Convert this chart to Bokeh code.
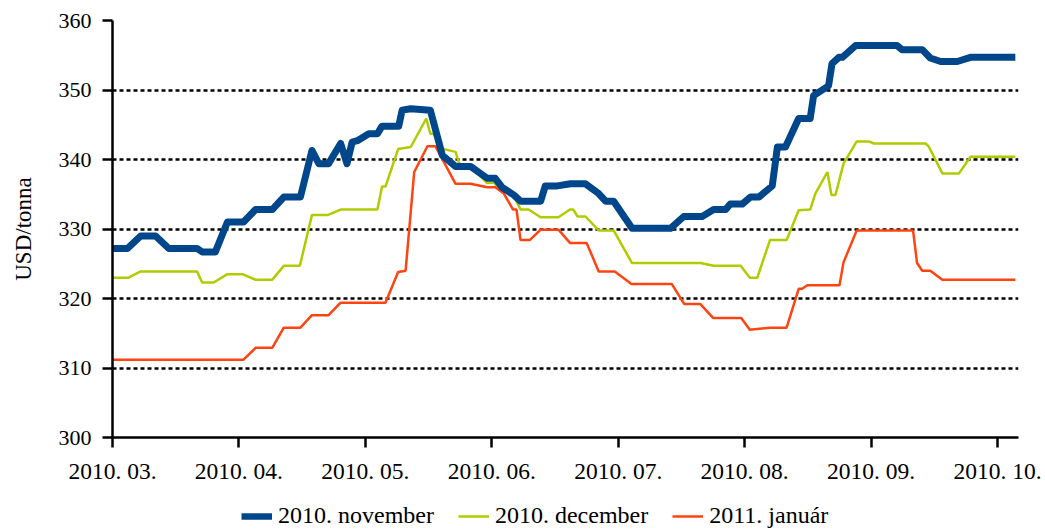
from bokeh.plotting import figure
from bokeh.models import FixedTicker, Legend, LegendItem, Range1d
from bokeh.layouts import column
from bokeh.embed import file_html
from bokeh.resources import INLINE

# x = trading-day index from 2010-03-01 (22 trading days per month tick)
tick_days = [0, 22, 44, 66, 88, 110, 132, 154]
tick_labels = ["2010. 03.", "2010. 04.", "2010. 05.", "2010. 06.",
               "2010. 07.", "2010. 08.", "2010. 09.", "2010. 10."]

nov_x = [0, 2.6, 4.9, 7.5, 9.8, 14.7, 15.6, 17.9, 20.0, 22.8, 24.9, 27.8, 29.8, 32.7,
         34.7, 35.9, 37.6, 39.7, 40.8, 41.7, 42.6, 44.6, 46.1, 46.9, 49.8, 50.4, 51.9,
         55.3, 57.4, 59.7, 62.3, 65.2, 66.6, 67.8, 69.8, 71.0, 74.5, 75.3, 77.4, 79.7,
         82.3, 84.6, 85.8, 87.2, 90.4, 97.1, 99.4, 102.6, 104.6, 106.7, 107.5, 109.6,
         111.0, 112.5, 114.8, 115.7, 117.1, 119.4, 121.4, 122.0, 124.6, 125.2, 126.4,
         127.0, 129.3, 136.5, 137.4, 140.9, 142.3, 144.1, 147.0, 149.3, 157.1]
nov_y = [327.2, 327.2, 329.0, 329.0, 327.2, 327.2, 326.7, 326.7, 331.0, 331.0, 332.8, 332.8,
         334.6, 334.6, 341.3, 339.4, 339.4, 342.3, 339.4, 342.5, 342.7, 343.7, 343.7, 344.8,
         344.8, 347.1, 347.3, 347.1, 340.6, 339.0, 339.0, 337.3, 337.3, 336.0, 334.9, 334.0,
         334.0, 336.2, 336.2, 336.5, 336.5, 335.1, 334.0, 334.0, 330.1, 330.1, 331.8, 331.8,
         332.8, 332.8, 333.6, 333.6, 334.6, 334.6, 336.2, 341.8, 341.8, 345.9, 345.9, 349.2,
         350.6, 353.8, 354.7, 354.7, 356.4, 356.4, 355.8, 355.8, 354.6, 354.1, 354.1, 354.7,
         354.7]

dec_x = [0, 2.8, 4.9, 14.7, 15.6, 17.6, 20.0, 22.6, 24.9, 27.8, 29.8, 32.6, 34.7, 37.4,
         39.7, 46.1, 46.9, 47.5, 49.7, 51.9, 54.6, 55.3, 55.9, 57.1, 59.7, 60.3, 62.3,
         65.2, 66.4, 67.5, 69.5, 71.0, 72.4, 74.5, 77.6, 79.6, 80.2, 80.9, 82.3, 84.6,
         87.2, 90.4, 102.3, 104.6, 109.3, 110.9, 112.2, 114.4, 117.3, 119.4, 121.4, 122.3,
         124.4, 125.1, 125.8, 127.2, 129.5, 131.6, 132.5, 141.5, 142.0, 144.4, 147.3,
         149.3, 157.1]
dec_y = [323.0, 323.0, 323.9, 323.9, 322.3, 322.3, 323.5, 323.5, 322.7, 322.7, 324.7, 324.7,
         332.0, 332.0, 332.8, 332.8, 336.1, 336.1, 341.5, 341.8, 345.9, 343.7, 343.7, 341.6,
         341.1, 339.4, 339.0, 336.6, 336.7, 335.5, 335.3, 332.8, 332.8, 331.7, 331.7, 332.8,
         332.8, 331.8, 331.8, 329.8, 329.8, 325.1, 325.1, 324.7, 324.7, 323.0, 323.0, 328.4,
         328.4, 332.7, 332.8, 335.1, 338.2, 334.9, 334.9, 339.4, 342.6, 342.6, 342.3, 342.3,
         341.9, 338.0, 338.0, 340.4, 340.4]

jan_x = [0, 22.8, 24.9, 27.8, 29.8, 32.7, 34.7, 37.6, 39.7, 47.5, 49.7, 51.0, 52.5, 54.8,
         56.2, 59.7, 62.3, 65.2, 66.6, 68.1, 69.7, 70.3, 71.0, 72.6, 74.5, 77.6, 79.6,
         82.5, 84.6, 87.4, 90.3, 97.3, 99.5, 102.3, 104.5, 109.4, 110.9, 114.5, 117.3,
         119.4, 120.0, 120.9, 126.5, 127.2, 129.5, 139.3, 140.0, 140.9, 142.3, 144.4, 157.1]
jan_y = [311.2, 311.2, 312.9, 312.9, 315.8, 315.8, 317.6, 317.6, 319.4, 319.4, 323.8, 324.0,
         338.2, 341.9, 341.9, 336.5, 336.5, 336.0, 336.0, 335.1, 332.8, 332.8, 328.4, 328.4,
         329.9, 329.9, 328.0, 328.0, 323.9, 323.9, 322.1, 322.1, 319.2, 319.2, 317.2, 317.2,
         315.5, 315.8, 315.8, 321.4, 321.4, 321.9, 321.9, 325.2, 329.8, 329.8, 325.1, 324.0,
         324.0, 322.7, 322.7]

series_names = ["2010. november", "2010. december", "2011. január"]
series_colors = ["#00468A", "#B0CC00", "#FF4411"]
series_widths = [6.5, 2.5, 2.5]
y_ticks = [300, 310, 320, 330, 340, 350, 360]

FONT = "Liberation Serif"

p = figure(width=1045, height=497, output_backend="svg", toolbar_location=None,
           x_range=Range1d(0, 157.65), y_range=Range1d(300, 360),
           min_border_left=112, min_border_right=27, min_border_top=20,
           min_border_bottom=60)
p.outline_line_color = None
p.background_fill_color = "white"
p.border_fill_color = "white"

p.xgrid.visible = False
p.ygrid.ticker = FixedTicker(ticks=y_ticks[1:])
p.ygrid.grid_line_color = "black"
p.ygrid.grid_line_dash = "4 3"
p.ygrid.grid_line_width = 2.5

for ax in (p.xaxis, p.yaxis):
    ax.axis_line_width = 2.5
    ax.axis_line_color = "black"
    ax.major_tick_line_width = 2.5
    ax.major_tick_line_color = "black"
    ax.major_tick_out = 10
    ax.major_tick_in = 0
    ax.minor_tick_line_color = None
    ax.major_label_text_font = FONT
    ax.major_label_text_color = "black"

p.xaxis.major_label_text_font_size = "23.5px"
p.yaxis.major_label_text_font_size = "22px"
p.xaxis.ticker = FixedTicker(ticks=tick_days)
p.xaxis.major_label_overrides = {d: l for d, l in zip(tick_days, tick_labels)}
p.xaxis.major_label_standoff = 10
p.yaxis.ticker = FixedTicker(ticks=y_ticks)
p.yaxis.major_label_standoff = 11
p.yaxis.axis_label = "USD/tonna"
p.yaxis.axis_label_text_font = FONT
p.yaxis.axis_label_text_font_size = "23px"
p.yaxis.axis_label_text_font_style = "normal"
p.yaxis.axis_label_text_color = "black"
p.yaxis.axis_label_standoff = 20

p.line(dec_x, dec_y, line_color=series_colors[1], line_width=series_widths[1])
p.line(jan_x, jan_y, line_color=series_colors[2], line_width=series_widths[2])
p.line(nov_x, nov_y, line_color=series_colors[0], line_width=7,
       line_join="round")

# legend strip below the chart (its frame is aligned with the chart's frame)
lg = figure(width=1045, height=32, output_backend="svg", toolbar_location=None,
            x_range=Range1d(0, 1), y_range=Range1d(0, 1),
            min_border_left=0, min_border_right=0, min_border_top=0, min_border_bottom=0)
lg.axis.visible = False
lg.grid.visible = False
lg.outline_line_color = None
items = []
for name, col, w in zip(series_names, series_colors, series_widths):
    r = lg.line([5, 6], [5, 5], line_color=col, line_width=w)  # outside view; legend only
    items.append(LegendItem(label=name, renderers=[r]))
legend = Legend(items=items, orientation="horizontal", location=(129, 0))
legend.label_text_font = FONT
legend.label_text_font_size = "24px"
legend.label_text_color = "black"
legend.border_line_color = None
legend.background_fill_alpha = 0
legend.glyph_width = 31
legend.label_standoff = 6
legend.spacing = 24
legend.padding = 2
legend.margin = 0
lg.add_layout(legend, "center")

layout = column(p, lg, spacing=0)
open("out.html", "w").write(file_html(layout, INLINE))
